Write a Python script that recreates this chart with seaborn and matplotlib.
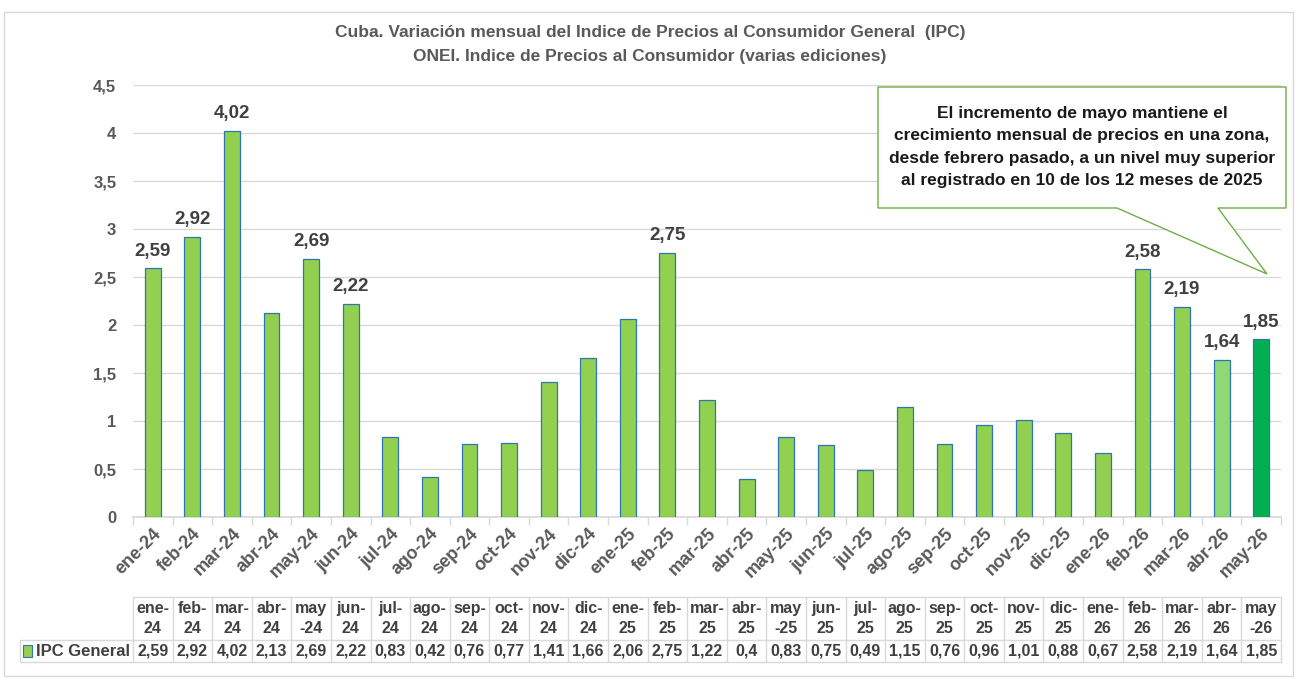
import matplotlib
matplotlib.use("Agg")
import matplotlib.pyplot as plt
import matplotlib.transforms as mtransforms
from matplotlib.patches import Rectangle, Polygon
import seaborn as sns
import pandas as pd

MESES = ['ene-24', 'feb-24', 'mar-24', 'abr-24', 'may-24', 'jun-24', 'jul-24', 'ago-24',
         'sep-24', 'oct-24', 'nov-24', 'dic-24', 'ene-25', 'feb-25', 'mar-25', 'abr-25',
         'may-25', 'jun-25', 'jul-25', 'ago-25', 'sep-25', 'oct-25', 'nov-25', 'dic-25',
         'ene-26', 'feb-26', 'mar-26', 'abr-26', 'may-26']
IPC = [2.59, 2.92, 4.02, 2.13, 2.69, 2.22, 0.83, 0.42, 0.76, 0.77, 1.41, 1.66, 2.06,
       2.75, 1.22, 0.40, 0.83, 0.75, 0.49, 1.15, 0.76, 0.96, 1.01, 0.88, 0.67,
       2.58, 2.19, 1.64, 1.85]
# cabeceras de la tabla (dos lineas)
TABLA_CAB = ['ene-\n24', 'feb-\n24', 'mar-\n24', 'abr-\n24', 'may\n-24', 'jun-\n24', 'jul-\n24',
             'ago-\n24', 'sep-\n24', 'oct-\n24', 'nov-\n24', 'dic-\n24', 'ene-\n25', 'feb-\n25',
             'mar-\n25', 'abr-\n25', 'may\n-25', 'jun-\n25', 'jul-\n25', 'ago-\n25', 'sep-\n25',
             'oct-\n25', 'nov-\n25', 'dic-\n25', 'ene-\n26', 'feb-\n26', 'mar-\n26', 'abr-\n26',
             'may\n-26']
TABLA_VAL = ['2,59', '2,92', '4,02', '2,13', '2,69', '2,22', '0,83', '0,42', '0,76', '0,77',
             '1,41', '1,66', '2,06', '2,75', '1,22', '0,4', '0,83', '0,75', '0,49', '1,15',
             '0,76', '0,96', '1,01', '0,88', '0,67', '2,58', '2,19', '1,64', '1,85']
CON_ETIQUETA = ['ene-24', 'feb-24', 'mar-24', 'may-24', 'jun-24', 'feb-25',
                'feb-26', 'mar-26', 'abr-26', 'may-26']

VERDE = '#92D050'
colores = [VERDE] * len(MESES)
colores[MESES.index('abr-26')] = '#8ED973'
colores[MESES.index('may-26')] = '#00B050'

sns.set_theme(style="white")
plt.rcParams['font.family'] = ['Liberation Sans', 'DejaVu Sans']

W, H = 1305, 686
fig = plt.figure(figsize=(W / 100, H / 100), dpi=100)
ax = fig.add_axes([133 / W, 1 - 517 / H, (1281 - 133) / W, (517 - 85) / H])

df = pd.DataFrame({'mes': MESES, 'ipc': IPC})
sns.barplot(data=df, x='mes', y='ipc', hue='mes', palette=colores, legend=False,
            saturation=1, width=0.4, edgecolor='#2E75B6', linewidth=0.9, ax=ax, zorder=3)

ax.set_xlim(-0.5, len(MESES) - 0.5)
ax.set_ylim(0, 4.5)
ax.set_yticks([0, 0.5, 1, 1.5, 2, 2.5, 3, 3.5, 4, 4.5])
ax.set_yticklabels(['0', '0,5', '1', '1,5', '2', '2,5', '3', '3,5', '4', '4,5'],
                   fontsize=12, fontweight='bold', color='#595959')
ax.yaxis.grid(True, color='#D9D9D9', linewidth=1)
ax.set_axisbelow(True)
ax.tick_params(axis='y', length=0, pad=12)
for s in ['top', 'right', 'left']:
    ax.spines[s].set_visible(False)
ax.spines['bottom'].set_color('#D9D9D9')
ax.set_xlabel('')
ax.set_ylabel('')

ax.set_xticks(range(len(MESES)))
ax.set_xticklabels(MESES, rotation=45, ha='right', rotation_mode='anchor',
                   fontsize=13, fontweight='bold', color='#595959')
ax.tick_params(axis='x', length=0, pad=6)
ax.set_xticks([i - 0.5 for i in range(len(MESES) + 1)], minor=True)
ax.tick_params(axis='x', which='minor', length=6, color='#D9D9D9', width=1, bottom=True)

for i, (m, v) in enumerate(zip(MESES, IPC)):
    if m in CON_ETIQUETA:
        ax.text(i, v + 0.09, f"{v:.2f}".replace('.', ','), ha='center', va='bottom',
                fontsize=13.5, fontweight='bold', color='#404040')

# titulo
fig.text(650 / W, 1 - 33 / H, 'Cuba. Variación mensual del Indice de Precios al Consumidor General  (IPC)',
         ha='center', va='center', fontsize=12.5, fontweight='bold', color='#595959')
fig.text(650 / W, 1 - 56 / H, 'ONEI. Indice de Precios al Consumidor (varias ediciones)',
         ha='center', va='center', fontsize=12.5, fontweight='bold', color='#595959')

# nota con flecha
nota = Polygon([(878 / W, 1 - 87 / H), (1286 / W, 1 - 87 / H), (1286 / W, 1 - 208 / H),
                (1218 / W, 1 - 208 / H), (1267 / W, 1 - 274 / H), (1117 / W, 1 - 208 / H),
                (878 / W, 1 - 208 / H)], closed=True, transform=fig.transFigure,
               facecolor='white', edgecolor='#70AD47', linewidth=1, zorder=10)
fig.patches.append(nota)
fig.text(1082 / W, 1 - 147 / H,
         'El incremento de mayo mantiene el\ncrecimiento mensual de precios en una zona,\n'
         'desde febrero pasado, a un nivel muy superior\nal registrado en 10 de los 12 meses de 2025',
         ha='center', va='center', fontsize=12.5, fontweight='bold', color='#1a1a1a',
         linespacing=1.6, zorder=11)

# tabla de datos
tr = mtransforms.blended_transform_factory(ax.transData, fig.transFigure)
y_top, y_mid, y_bot = 1 - 597 / H, 1 - 640 / H, 1 - 662 / H
lc = '#D9D9D9'
n = len(MESES)
for k in range(n + 1):
    ax.plot([k - 0.5, k - 0.5], [y_bot, y_top], transform=tr, color=lc, lw=1, clip_on=False)
ax.plot([-0.5, n - 0.5], [y_top, y_top], transform=tr, color=lc, lw=1, clip_on=False)
for yy in (y_mid, y_bot):
    fig.add_artist(plt.Line2D([20 / W, 1281 / W], [yy, yy], color=lc, lw=1))
fig.add_artist(plt.Line2D([20 / W, 20 / W], [y_bot, y_mid], color=lc, lw=1))
for k in range(n):
    ax.text(k, (y_top + y_mid) / 2, TABLA_CAB[k], transform=tr, ha='center', va='center',
            fontsize=11.5, fontweight='bold', color='#404040', linespacing=1.35)
    ax.text(k, (y_mid + y_bot) / 2, TABLA_VAL[k], transform=tr, ha='center', va='center',
            fontsize=11.5, fontweight='bold', color='#404040')
fig.patches.append(Rectangle((23 / W, 1 - 657 / H), 9 / W, 12 / H, transform=fig.transFigure,
                             facecolor=VERDE, edgecolor='#2E75B6', linewidth=0.8))
fig.text(36 / W, (y_mid + y_bot) / 2, 'IPC General', ha='left', va='center',
         fontsize=12, fontweight='bold', color='#404040')

# marco exterior
fig.patches.append(Rectangle((4 / W, 1 - 676 / H), 1289 / W, 664 / H, transform=fig.transFigure,
                             facecolor='none', edgecolor='#D9D9D9', linewidth=1))

fig.savefig('out.png', dpi=100, facecolor='white')
